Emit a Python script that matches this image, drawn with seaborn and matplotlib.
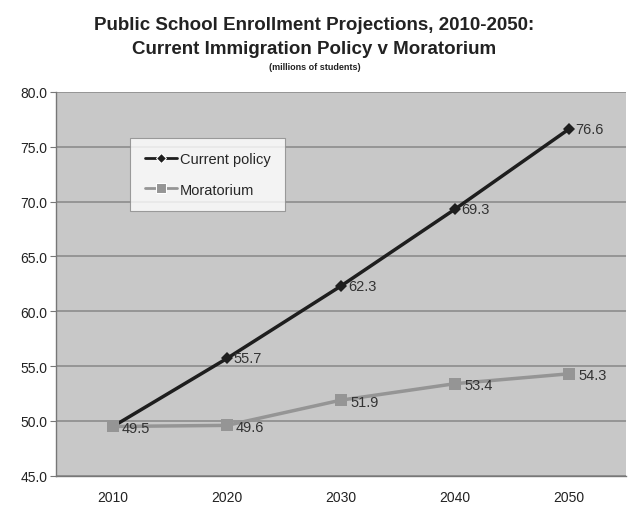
#!/usr/bin/env python3
# -*- coding: utf-8 -*-
"""Public school enrollment projections: current policy vs moratorium."""
import numpy as np
import pandas as pd
import matplotlib
matplotlib.use("Agg")
import matplotlib.pyplot as plt
import seaborn as sns

years = ["2010", "2020", "2030", "2040", "2050"]
current_policy = [49.5, 55.7, 62.3, 69.3, 76.6]
moratorium = [49.5, 49.6, 51.9, 53.4, 54.3]

sns.set_style("white")
plt.rcParams["font.family"] = ["Liberation Sans", "DejaVu Sans"]

df = pd.DataFrame({
    "pos": list(range(len(years))) * 2,
    "value": current_policy + moratorium,
    "series": ["Current policy"] * len(years) + ["Moratorium"] * len(years),
})

fig = plt.figure(figsize=(6.29, 5.10), dpi=100)
ax = fig.add_axes([0.089, 0.065, 0.906, 0.753])
ax.set_facecolor("#c8c8c8")

sns.lineplot(data=df, x="pos", y="value", hue="series", style="series",
             palette={"Current policy": "#1e1e1e", "Moratorium": "#959595"},
             markers={"Current policy": "D", "Moratorium": "s"},
             dashes=False, linewidth=2.5, ax=ax, zorder=3)

# marker sizes per series
for line, ms in zip(ax.lines, [6, 9]):
    line.set_markersize(ms)
    line.set_markeredgewidth(0)

# data labels
for i, v in enumerate(current_policy):
    if i == 0:
        continue
    ax.text(i + 0.06, v, f"{v:.1f}", va="center", ha="left", fontsize=10.5, color="#333333", zorder=4)
for i, v in enumerate(moratorium):
    ax.text(i + 0.08, v - 0.15, f"{v:.1f}", va="center", ha="left", fontsize=10.5, color="#333333", zorder=4)

ax.set_xlim(-0.5, len(years) - 0.5)
ax.set_ylim(45, 80)
ax.set_yticks(np.arange(45, 80.1, 5))
ax.set_yticklabels([f"{t:.1f}" for t in np.arange(45, 80.1, 5)], fontsize=10, color="#222222")
ax.set_xticks(range(len(years)))
ax.set_xticklabels(years, fontsize=10, color="#222222")
ax.set_xticks(np.arange(-0.5, len(years)), minor=True)
ax.tick_params(axis="x", which="major", length=0, pad=10)
ax.tick_params(axis="x", which="minor", length=4, color="#777777", direction="out")
ax.tick_params(axis="y", length=4, color="#777777", direction="out", left=True, pad=2)
ax.yaxis.grid(True, color="#8c8c8c", linewidth=1.2, zorder=0)
ax.set_axisbelow(True)
for side in ["top", "right"]:
    ax.spines[side].set_visible(False)
for side in ["left", "bottom"]:
    ax.spines[side].set_color("#777777")
    ax.spines[side].set_linewidth(1.0)
ax.set_xlabel("")
ax.set_ylabel("")

leg = ax.legend(loc="upper left", bbox_to_anchor=(0.13, 0.88), frameon=True,
                fancybox=False, fontsize=10.5, handlelength=2.2, handletextpad=0.2,
                borderpad=1.0, labelspacing=1.1, borderaxespad=0)
leg.get_frame().set_edgecolor("#888888")
leg.get_frame().set_facecolor("white")
leg.get_frame().set_linewidth(0.8)
for h, ms in zip(leg.get_lines(), [5, 7]):
    h.set_markersize(ms)
    h.set_linewidth(2.0)

fig.text(0.5, 0.95, "Public School Enrollment Projections, 2010-2050:",
         ha="center", va="center", fontsize=13.5, fontweight="bold", color="#222222")
fig.text(0.5, 0.902, "Current Immigration Policy v Moratorium",
         ha="center", va="center", fontsize=13.5, fontweight="bold", color="#222222")
fig.text(0.5, 0.868, "(millions of students)",
         ha="center", va="center", fontsize=6.5, fontweight="bold", color="#222222")

fig.savefig("out.png", dpi=100)
